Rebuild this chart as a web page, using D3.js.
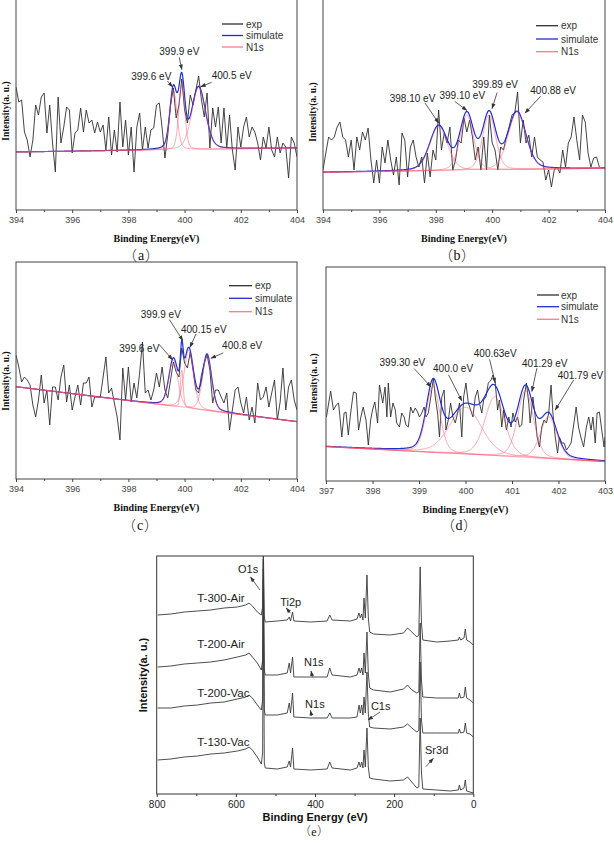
<!DOCTYPE html>
<html><head><meta charset="utf-8">
<script src="https://cdn.jsdelivr.net/npm/d3@7"></script>
<style>body{margin:0;background:#fff}text{font-family:"Liberation Sans",Arial,sans-serif}</style>
</head><body>
<svg id="c" width="614" height="843"></svg>
<script>
// ================= DATA =================
// Panels (a)-(c): energy grid, 0.1 eV steps
const energyA = d3.range(0, 101).map(i => +(394 + i * 0.1).toFixed(2));
const expA = [123,108,110,78,70,53,70,105,95,113,117,77,105,67,38,113,67,83,103,100,57,77,80,102,78,100,87,90,77,88,78,85,60,93,55,80,58,108,63,90,55,83,38,83,97,60,83,62,80,82,105,107,82,52,75,105,122,92,105,131,100,87,115,105,120,134,110,93,117,62,102,83,103,67,102,62,95,60,40,83,63,83,93,73,83,78,67,50,73,62,83,60,53,73,57,67,63,32,73,67,53];
const baseA = [58, 62];                       // linear background at 394 / 404 eV
const peaksA = [[399.6, 60, 0.30], [399.9, 66, 0.25], [400.5, 62, 0.58]]; // centre, height, FWHM

const energyB = d3.range(0, 99).map(i => +(394 + i * 0.1).toFixed(2));
const expB = [40,57,73,70,73,83,88,73,70,53,70,40,73,60,78,70,82,50,27,50,27,63,47,70,50,35,53,25,77,70,33,63,70,53,43,53,27,57,33,60,50,100,60,77,67,83,40,50,70,67,92,78,90,73,50,63,40,73,40,95,67,60,40,63,60,73,83,95,97,118,67,90,67,75,53,73,53,50,48,30,40,23,40,43,37,60,43,67,73,93,70,50,95,88,57,43,52,53,43];
const baseB = [37.7, 41.7];
const peaksB = [[398.10, 44, 0.75], [399.10, 55, 0.57], [399.89, 55, 0.55], [400.88, 57, 0.75]];

const energyC = d3.range(0, 101).map(i => +(394 + i * 0.1).toFixed(2));
const expC = [124,112,97,102,99,94,74,62,79,104,76,89,54,92,92,79,102,114,77,94,69,82,94,74,96,96,102,72,82,82,82,102,122,86,91,76,62,39,111,79,112,77,96,81,106,137,86,89,79,89,106,92,112,89,81,99,117,107,102,131,116,111,127,109,89,86,104,116,124,109,76,89,89,82,76,86,49,69,89,92,76,66,82,59,72,56,96,79,82,92,72,86,99,59,77,111,69,92,99,79,69];
const baseC = [92.3, 57.3];
const peaksC = [[399.6, 46, 0.38], [399.9, 37, 0.12], [400.15, 58, 0.40], [400.8, 55, 0.38]];

const energyD = [397.01,397.10,397.16,397.22,397.27,397.30,397.34,397.39,397.43,397.48,397.53,397.59,397.65,397.70,397.75,397.80,397.86,397.91,397.96,398.00,398.05,398.11,398.15,398.22,398.27,398.31,398.34,398.39,398.44,398.49,398.52,398.58,398.63,398.68,398.72,398.77,398.82,398.87,398.92,398.97,399.01,399.06,399.11,399.15,399.20,399.25,399.31,399.35,399.40,399.44,399.49,399.54,399.58,399.63,399.68,399.73,399.78,399.83,399.87,399.92,399.96,400.01,400.06,400.11,400.16,400.21,400.26,400.30,400.35,400.39,400.44,400.49,400.55,400.59,400.64,400.69,400.73,400.78,400.82,400.88,400.93,400.98,401.02,401.07,401.12,401.16,401.21,401.25,401.31,401.36,401.39,401.45,401.50,401.54,401.59,401.64,401.69,401.74,401.79,401.84,401.88,401.93,401.98,402.02,402.07,402.12,402.17,402.22,402.27,402.32,402.38,402.43,402.48,402.54,402.60,402.65,402.70,402.74,402.79,402.83,402.88,402.93,402.98,403.00];
const expD = [64,90,71,76,78,64,44,68,69,46,68,89,88,51,64,74,61,36,61,71,79,58,96,78,94,64,98,64,78,71,58,54,68,64,56,54,74,68,73,69,64,68,74,64,68,83,103,84,68,44,84,91,51,61,78,64,58,68,78,44,84,98,78,71,64,84,91,78,68,81,84,98,101,106,98,71,81,54,71,51,64,54,68,59,64,54,56,81,98,78,58,84,64,44,34,54,61,58,68,96,68,44,28,44,38,38,31,34,38,54,74,54,44,34,54,64,51,64,38,68,69,51,34,44];
const baseD = [34.3, 19.3];
const peaksD = [[399.30, 66, 0.35], [400.0, 47, 0.80], [400.63, 59, 0.50], [401.29, 67, 0.40], [401.79, 42, 0.42]];

const peakLabelsA = ["399.6 eV", "399.9 eV", "400.5 eV"];
const peakLabelsB = ["398.10 eV", "399.10 eV", "399.89 eV", "400.88 eV"];
const peakLabelsC = ["399.6 eV", "399.9 eV", "400.15 eV", "400.8 eV"];
const peakLabelsD = ["399.30 eV", "400.0 eV", "400.63eV", "401.29 eV", "401.79 eV"];
const legendNames = ["exp", "simulate", "N1s"];
const ticksAC = [394, 396, 398, 400, 402, 404];
const ticksD = [397, 398, 399, 400, 401, 402, 403];

// Panel (e): survey spectra
const surveyEnergy = [797.6,764.0,730.4,696.9,663.3,629.7,596.1,575.1,566.7,558.3,545.7,535.7,532.3,530.6,528.1,525.6,495.4,470.2,465.1,461.8,456.7,453.4,411.4,369.4,362.7,356.8,310.6,293.9,288.8,285.5,282.1,278.8,276.2,272.9,268.7,265.3,261.9,251.9,209.9,176.3,166.2,155.3,142.7,137.7,134.3,131.0,127.6,92.4,58.8,37.8,35.3,31.9,23.5,20.2,16.8,8.4,0];
const survT300Air = [179,180,182,183,184,186,187,189,191,188,182,179,187,250,177,172,173,174,177,173,182,173,172,173,179,174,173,175,181,176,180,174,196,176,219,177,162,160,159,161,166,162,157,159,227,171,154,152,153,154,157,154,156,165,154,152,149];
const survT200Air = [127,128,130,131,132,134,137,139,141,137,131,124,134,235,124,119,119,121,131,121,137,117,117,117,126,119,117,119,126,121,126,119,141,121,162,121,106,104,102,105,109,104,101,102,171,114,97,96,96,96,101,96,97,107,96,94,91];
const survT200Vac = [86,86,88,89,91,92,95,97,99,96,89,84,94,225,84,79,79,81,91,81,101,77,76,76,81,76,76,77,89,81,89,79,97,81,122,81,67,66,65,67,70,66,62,64,132,74,61,61,61,61,65,61,62,71,61,60,57];
const survT130Vac = [34,35,37,38,40,41,43,45,47,44,37,30,41,215,31,26,25,27,33,27,46,25,24,25,32,26,24,26,32,27,32,26,44,27,66,27,16,15,13,14,17,12,6,7,76,21,5,4,3,4,9,4,6,14,3,2,1];
const surveyNames = ["T-300-Air", "T-200-Air", "T-200-Vac", "T-130-Vac"];
const surveyTicks = [800, 600, 400, 200, 0];
const surveyMinor = [700, 500, 300, 100];
// annotations in data units: label, [E, I] text, arrow from [E,I] to [E,I]
const surveyNotes = [
  ["O1s", [569, 221], [539, 204], [563, 217]],
  ["Ti2p", [488, 188.5], [462.5, 181], [472.6, 186]],
  ["N1s", [427.6, 128], [406.5, 117], [410, 123]],
  ["N1s", [425, 86.5], [408.3, 78], [411.8, 83.5]],
  ["C1s", [258.7, 84], [235.7, 82], [266, 74]],
  ["Sr3d", [122, 40.5], [120, 27.3], [101, 35.7]]
];
const surveyNamePos = [[697.6, 192], [697.6, 146], [697.6, 97.3], [697.6, 48.3]];

// ================= DRAW =================
const svg = d3.select('#c');
const defs = svg.append('defs');
defs.append('marker').attr('id', 'ah').attr('viewBox', '0 0 10 10').attr('refX', 9).attr('refY', 5)
  .attr('markerWidth', 7).attr('markerHeight', 7).attr('orient', 'auto')
  .append('path').attr('d', 'M0,1.5L10,5L0,8.5Z').attr('fill', '#333');

const ETA = 0.25;
function pv(E, c, h, w) { const t = (E - c) / w; return h * ((1 - ETA) * Math.exp(-4 * Math.LN2 * t * t) + ETA / (1 + 4 * t * t)); }

const COL_EXP = '#303030', COL_SIM = '#1c2fd0', COL_N = '#ff4d6a';

function tagText(g, xx, yy, letter, size, gap) {
  const ff = '"Noto Sans CJK SC","Noto Sans CJK JP",sans-serif';
  g.append('text').attr('x', xx - gap).attr('y', yy).attr('text-anchor', 'end').attr('font-size', size)
    .attr('fill', '#222').style('font-family', ff).style('font-weight', 300).text('（');
  g.append('text').attr('x', xx).attr('y', yy).attr('text-anchor', 'middle').attr('font-size', size)
    .attr('fill', '#111').style('font-family', '"Liberation Serif","Times New Roman",serif').text(letter);
  g.append('text').attr('x', xx + gap).attr('y', yy).attr('text-anchor', 'start').attr('font-size', size)
    .attr('fill', '#222').style('font-family', ff).style('font-weight', 300).text('）');
}

function xpsPanel(p) {
  const g = svg.append('g');
  const x = d3.scaleLinear().domain(p.xDomain).range([p.left, p.right]);
  const y = d3.scaleLinear().domain([0, p.bottom - p.top]).range([p.bottom, p.top]);
  const cid = 'clip' + p.id;
  defs.append('clipPath').attr('id', cid).append('rect')
    .attr('x', p.left).attr('y', p.top).attr('width', p.right - p.left).attr('height', p.bottom - p.top);
  const base = E => p.base[0] + (p.base[1] - p.base[0]) * (E - p.xDomain[0]) / (p.xDomain[1] - p.xDomain[0]);
  const sim = E => base(E) + d3.sum(p.peaks, q => pv(E, q[0], q[1], q[2]));
  const grid = d3.range(p.xDomain[0], p.xDomain[1] + 0.001, 0.01);
  const line = d3.line().x(d => x(d[0])).y(d => y(d[1]));
  const pg = g.append('g').attr('clip-path', `url(#${cid})`);
  pg.append('path').attr('d', line(p.energy.map((e, i) => [e, p.exp[i]])))
    .attr('fill', 'none').attr('stroke', COL_EXP).attr('stroke-width', 0.9);
  pg.append('path').attr('d', line(grid.map(E => [E, sim(E)])))
    .attr('fill', 'none').attr('stroke', COL_SIM).attr('stroke-width', 1.2);
  p.peaks.forEach(q => {
    pg.append('path').attr('d', line(grid.map(E => [E, base(E) + pv(E, q[0], q[1], q[2])])))
      .attr('fill', 'none').attr('stroke', COL_N).attr('stroke-width', 0.9).attr('stroke-opacity', 0.55);
  });
  // frame
  g.append('rect').attr('x', p.left).attr('y', p.top).attr('width', p.right - p.left).attr('height', p.bottom - p.top)
    .attr('fill', 'none').attr('stroke', '#444').attr('stroke-width', 1);
  // axis
  const ax = g.append('g').attr('transform', `translate(0,${p.bottom})`)
    .call(d3.axisBottom(x).tickValues(p.ticks).tickSize(3).tickPadding(4).tickFormat(d3.format('d')));
  ax.select('.domain').remove();
  ax.selectAll('line').attr('stroke', '#444');
  ax.selectAll('text').attr('font-size', 9).attr('fill', '#444').style('font-family', '"Liberation Sans",Arial,sans-serif');
  if (p.minor) {
    const mx = g.append('g').attr('transform', `translate(0,${p.bottom})`)
      .call(d3.axisBottom(x).tickValues(p.minor).tickSize(2).tickFormat(''));
    mx.select('.domain').remove(); mx.selectAll('line').attr('stroke', '#444');
  }
  g.append('text').attr('x', (p.left + p.right) / 2).attr('y', p.bottom + 31.5).attr('text-anchor', 'middle')
    .attr('font-size', 10).attr('font-weight', 'bold').style('font-family', '"Liberation Serif","Times New Roman",serif')
    .attr('fill', '#111').text('Binding Energy(eV)');
  g.append('text').attr('transform', `translate(${p.ylab[0]},${p.ylab[1]}) rotate(-90)`).attr('text-anchor', 'middle')
    .attr('dy', '0.35em').attr('font-size', 9.5).attr('font-weight', 'bold')
    .style('font-family', '"Liberation Serif","Times New Roman",serif').attr('fill', '#111').text('Intensity(a. u.)');
  tagText(g, p.tag[0], p.tag[1], p.tagLetter, 14, 4);
  // legend
  const lg = p.legend, cols = [COL_EXP, COL_SIM, '#ff7a8a'];
  legendNames.forEach((n, i) => {
    g.append('line').attr('x1', lg.x1).attr('x2', lg.x2).attr('y1', lg.ys[i]).attr('y2', lg.ys[i])
      .attr('stroke', cols[i]).attr('stroke-width', 1.3);
    g.append('text').attr('x', lg.tx).attr('y', lg.ys[i]).attr('dy', '0.35em').attr('font-size', 10)
      .attr('fill', '#333').text(n);
  });
  // peak annotations
  p.peaks.forEach((q, i) => {
    const a = p.notes[i];
    const px = x(q[0]), py = y(sim(q[0]));
    g.append('line').attr('x1', px + a.tail[0]).attr('y1', py + a.tail[1]).attr('x2', px + a.tip[0]).attr('y2', py + a.tip[1])
      .attr('stroke', '#333').attr('stroke-width', 0.8).attr('marker-end', 'url(#ah)');
    g.append('text').attr('x', px + a.text[0]).attr('y', py + a.text[1]).attr('text-anchor', a.anchor)
      .attr('font-size', 10).attr('fill', '#222').text(p.labels[i]);
  });
}

xpsPanel({id: 'a', left: 16, right: 297, top: -2, bottom: 210, xDomain: [394, 404],
  energy: energyA, exp: expA, base: baseA, peaks: peaksA, labels: peakLabelsA,
  ticks: ticksAC, minor: [395, 397, 399, 401, 403], ylab: [6, 111], tag: [141, 260], tagLetter: 'a',
  legend: {x1: 222, x2: 243, tx: 246, ys: [24, 35.5, 47]},
  notes: [{tip: [-1, 2], tail: [-6, -4], text: [-2, -5], anchor: 'end'},
          {tip: [0, -3], tail: [-2.5, -15], text: [-2.5, -17.5], anchor: 'middle'},
          {tip: [2, 0.5], tail: [13, -4], text: [13, -7.5], anchor: 'start'}]});

xpsPanel({id: 'b', left: 323, right: 605, top: -2, bottom: 210, xDomain: [394, 404],
  energy: energyB, exp: expB, base: baseB, peaks: peaksB, labels: peakLabelsB,
  ticks: ticksAC, minor: [395, 397, 399, 401, 403], ylab: [313, 112], tag: [457, 260], tagLetter: 'b',
  legend: {x1: 536, x2: 558, tx: 561, ys: [25.7, 39, 51.7]},
  notes: [{tip: [0, -2], tail: [-13.6, -22], text: [-3.3, -23.5], anchor: 'end'},
          {tip: [0, -1], tail: [-12, -10], text: [-4.5, -12.2], anchor: 'middle'},
          {tip: [3, -2], tail: [8, -18], text: [6, -22.6], anchor: 'middle'},
          {tip: [8, 2], tail: [23.6, -14.7], text: [13.3, -16.8], anchor: 'start'}]});

xpsPanel({id: 'c', left: 16, right: 297, top: 262, bottom: 479, xDomain: [394, 404],
  energy: energyC, exp: expC, base: baseC, peaks: peaksC, labels: peakLabelsC,
  ticks: ticksAC, minor: [395, 397, 399, 401, 403], ylab: [6, 381], tag: [140, 530], tagLetter: 'c',
  legend: {x1: 229, x2: 252, tx: 255, ys: [285.7, 298.3, 311.7]},
  notes: [{tip: [-1, 2], tail: [-14, -13], text: [-14, -5.8], anchor: 'end'},
          {tip: [1, 0.6], tail: [-12.4, -20.4], text: [-21, -21.5], anchor: 'middle'},
          {tip: [1.2, 0], tail: [7.2, -13.3], text: [-7.8, -14.2], anchor: 'start'},
          {tip: [3.9, 4.3], tail: [16.2, -1], text: [15, -4.8], anchor: 'start'}]});

xpsPanel({id: 'd', left: 326, right: 605, top: 267, bottom: 481, xDomain: [397, 403],
  energy: energyD, exp: expD, base: baseD, peaks: peaksD, labels: peakLabelsD,
  ticks: ticksD, minor: null, ylab: [314, 383], tag: [459, 530], tagLetter: 'd',
  legend: {x1: 537, x2: 559, tx: 561, ys: [295, 306.7, 319.3]},
  notes: [{tip: [-2.1, 8.3], tail: [-18.8, -10], text: [-7.8, -12.2], anchor: 'end'},
          {tip: [-3.7, -2.3], tail: [-17, -28.3], text: [-12.4, -30.8], anchor: 'middle'},
          {tip: [0.4, -2.3], tail: [-5.2, -25.6], text: [0.4, -28.1], anchor: 'middle'},
          {tip: [6.4, 6.6], tail: [11.4, -16.7], text: [-3.6, -18.2], anchor: 'start'},
          {tip: [6.5, -2.4], tail: [24.9, -32.4], text: [8.9, -33.9], anchor: 'start'}]});

// ---------- panel (e) ----------
(function () {
  const L = 156.7, R = 473.3, T = 556, B = 794;
  const g = svg.append('g');
  const x = d3.scaleLinear().domain([800, 0]).range([L, R]);
  const y = d3.scaleLinear().domain([0, B - T]).range([B, T]);
  defs.append('clipPath').attr('id', 'clipe').append('rect').attr('x', L).attr('y', T).attr('width', R - L).attr('height', B - T);
  const line = d3.line().x(d => x(d[0])).y(d => y(d[1]));
  const pg = g.append('g').attr('clip-path', 'url(#clipe)');
  [survT300Air, survT200Air, survT200Vac, survT130Vac].forEach(s => {
    pg.append('path').attr('d', line(surveyEnergy.map((e, i) => [e, s[i]])))
      .attr('fill', 'none').attr('stroke', '#3a3a3a').attr('stroke-width', 0.9);
  });
  g.append('rect').attr('x', L).attr('y', T).attr('width', R - L).attr('height', B - T)
    .attr('fill', 'none').attr('stroke', '#333').attr('stroke-width', 1);
  const ax = g.append('g').attr('transform', `translate(0,${B})`)
    .call(d3.axisBottom(x).tickValues(surveyTicks).tickSize(3).tickPadding(4).tickFormat(d3.format('d')));
  ax.select('.domain').remove(); ax.selectAll('line').attr('stroke', '#333');
  ax.selectAll('text').attr('font-size', 10).attr('fill', '#222');
  const mx = g.append('g').attr('transform', `translate(0,${B})`)
    .call(d3.axisBottom(x).tickValues(surveyMinor).tickSize(2).tickFormat(''));
  mx.select('.domain').remove(); mx.selectAll('line').attr('stroke', '#333');
  g.append('text').attr('x', (L + R) / 2).attr('y', B + 27).attr('text-anchor', 'middle').attr('font-size', 11)
    .attr('font-weight', 'bold').attr('fill', '#111').text('Binding Energy (eV)');
  tagText(g, (L + R) / 2 - 1, B + 42, 'e', 12, 3);
  g.append('text').attr('transform', `translate(143,${(T + B) / 2}) rotate(-90)`).attr('text-anchor', 'middle')
    .attr('dy', '0.35em').attr('font-size', 11).attr('font-weight', 'bold').attr('fill', '#111').text('Intensity(a. u.)');
  surveyNames.forEach((n, i) => {
    g.append('text').attr('x', x(surveyNamePos[i][0])).attr('y', y(surveyNamePos[i][1])).attr('font-size', 11.5)
      .attr('fill', '#222').text(n);
  });
  surveyNotes.forEach(a => {
    g.append('text').attr('x', x(a[1][0])).attr('y', y(a[1][1])).attr('font-size', 11).attr('fill', '#222')
      .attr('text-anchor', a[0] === 'O1s' ? 'middle' : 'start').text(a[0]);
    g.append('line').attr('x1', x(a[2][0])).attr('y1', y(a[2][1])).attr('x2', x(a[3][0])).attr('y2', y(a[3][1]))
      .attr('stroke', '#333').attr('stroke-width', 0.8).attr('marker-end', 'url(#ah)');
  });
})();
</script>
</body></html>
